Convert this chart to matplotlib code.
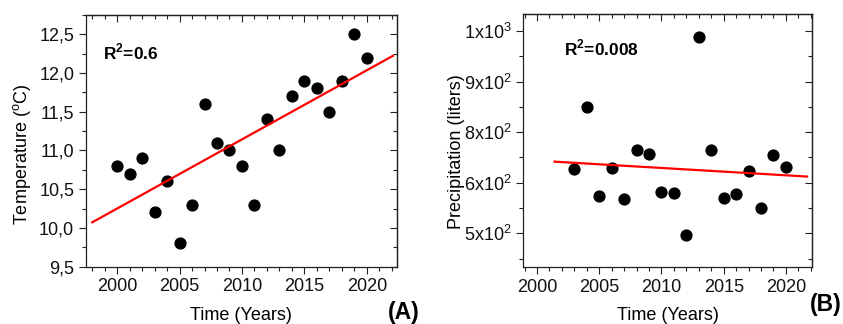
import matplotlib
matplotlib.use("Agg")
import matplotlib.pyplot as plt
import matplotlib.ticker as mticker
import numpy as np

plt.rcParams["font.family"] = ["Liberation Sans", "DejaVu Sans"]
plt.rcParams["mathtext.fontset"] = "custom"
plt.rcParams["mathtext.rm"] = "Liberation Sans"
plt.rcParams["mathtext.bf"] = "Liberation Sans:bold"

# Panel A: temperature
years_a = list(range(2000, 2021))
temperature = [10.8, 10.7, 10.9, 10.2, 10.6, 9.8, 10.3, 11.6, 11.1, 11.0, 10.8,
               10.3, 11.4, 11.0, 11.7, 11.9, 11.8, 11.5, 11.9, 12.5, 12.2]
fit_range_a = [1998.0, 2022.1]

# Panel B: precipitation
years_b = list(range(2003, 2021))
precipitation = [658, 812, 592, 662, 585, 705, 697, 602, 600, 496, 984, 706,
                 588, 597, 655, 562, 693, 665]
fit_range_b = [2001.4, 2021.7]

precip_ticks = [500, 625, 750, 875, 1000]
precip_labels = [r"5x10$^2$", r"6x10$^2$", r"8x10$^2$", r"9x10$^2$", r"1x10$^3$"]


def style_axes(ax, ymajor, yminor):
    for s in ax.spines.values():
        s.set_linewidth(0.9)
        s.set_color("#222222")
    ax.xaxis.set_major_locator(mticker.MultipleLocator(5))
    ax.xaxis.set_minor_locator(mticker.MultipleLocator(1))
    ax.yaxis.set_minor_locator(mticker.MultipleLocator(yminor))
    ax.tick_params(which="major", direction="out", length=5, width=0.8, labelsize=13,
                   colors="#222222", labelcolor="#111111")
    ax.tick_params(which="minor", direction="out", length=3, width=0.8, colors="#222222")
    # mirrored ticks on top and right point inwards
    top = ax.secondary_xaxis("top")
    top.xaxis.set_major_locator(mticker.MultipleLocator(5))
    top.xaxis.set_minor_locator(mticker.MultipleLocator(1))
    right = ax.secondary_yaxis("right")
    right.yaxis.set_major_locator(ymajor)
    right.yaxis.set_minor_locator(mticker.MultipleLocator(yminor))
    for sec in (top, right):
        sec.tick_params(which="major", direction="in", length=5, width=0.8, colors="#222222")
        sec.tick_params(which="minor", direction="in", length=3, width=0.8, colors="#222222")
        for s in sec.spines.values():
            s.set_linewidth(0.9)
            s.set_color("#222222")
    top.xaxis.set_major_formatter(mticker.NullFormatter())
    right.yaxis.set_major_formatter(mticker.NullFormatter())


def fit_line(ax, x, y, xr):
    k, b = np.polyfit(x, y, 1)
    xs = np.array(xr)
    ax.plot(xs, k * xs + b, color="#ff0000", lw=1.6, zorder=3)


fig = plt.figure(figsize=(8.43, 3.24), dpi=100)

# (A)
ax1 = fig.add_axes([0.102, 0.177, 0.3686, 0.777])
ax1.plot(years_a, temperature, "o", color="black", markersize=7.8, zorder=2)
fit_line(ax1, years_a, temperature, fit_range_a)
ax1.set_xlim(1997.5, 2022.4)
ax1.set_ylim(9.5, 12.75)
ax1.yaxis.set_major_locator(mticker.MultipleLocator(0.5))
ax1.yaxis.set_major_formatter(mticker.FuncFormatter(lambda v, p: f"{v:.1f}".replace(".", ",")))
style_axes(ax1, mticker.MultipleLocator(0.5), 0.25)
ax1.set_xlabel("Time (Years)", fontsize=13, labelpad=8)
ax1.set_ylabel(r"Temperature ($^\mathrm{o}$C)", fontsize=13)
ax1.yaxis.set_label_coords(-0.171, 0.446)
ax1.text(0.055, 0.853, r"R$^\mathbf{2}$=0.6", transform=ax1.transAxes, fontsize=12.5,
         fontweight="bold", va="center", ha="left")
fig.text(0.498, 0.035, "(A)", fontsize=16.5, fontweight="bold", ha="right", va="center")

# (B)
ax2 = fig.add_axes([0.6208, 0.176, 0.3425, 0.781])
ax2.plot(years_b, precipitation, "o", color="black", markersize=7.8, zorder=2)
fit_line(ax2, years_b, precipitation, fit_range_b)
ax2.set_xlim(1998.9, 2022.1)
ax2.set_ylim(417, 1042)
ax2.yaxis.set_major_locator(mticker.FixedLocator(precip_ticks))
ax2.yaxis.set_major_formatter(mticker.FixedFormatter(precip_labels))
style_axes(ax2, mticker.FixedLocator(precip_ticks), 62.5)
ax2.set_xlabel("Time (Years)", fontsize=13, labelpad=8)
ax2.set_ylabel("Precipitation (liters)", fontsize=13)
ax2.yaxis.set_label_coords(-0.202, 0.456)
ax2.text(0.141, 0.864, r"R$^\mathbf{2}$=0.008", transform=ax2.transAxes, fontsize=12.5,
         fontweight="bold", va="center", ha="left")
fig.text(0.998, 0.06, "(B)", fontsize=16.5, fontweight="bold", ha="right", va="center")

fig.savefig("out.png", dpi=100)
